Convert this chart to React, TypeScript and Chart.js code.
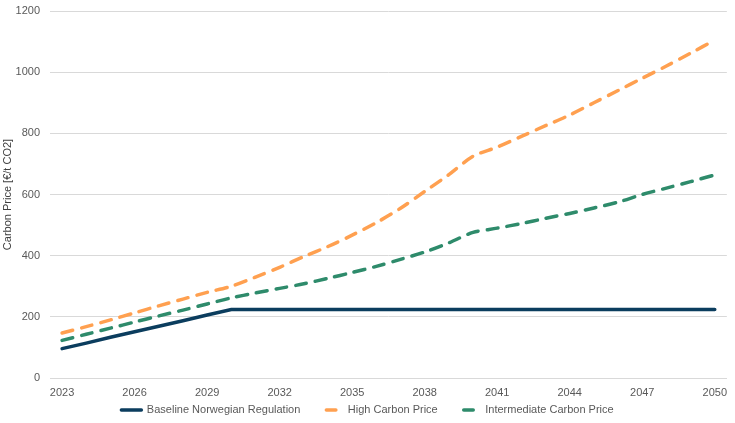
import React, { useEffect, useRef } from "react";
import { Chart, registerables } from "chart.js";

Chart.register(...registerables);

const years: string[] = [
  "2023","2024","2025","2026","2027","2028","2029","2030","2031","2032",
  "2033","2034","2035","2036","2037","2038","2039","2040","2041","2042",
  "2043","2044","2045","2046","2047","2048","2049","2050",
];

const baseline: number[] = [
  96, 114, 133, 151, 169, 187, 206, 224, 224, 224,
  224, 224, 224, 224, 224, 224, 224, 224, 224, 224,
  224, 224, 224, 224, 224, 224, 224, 224,
];

const highPrice: number[] = [
  147, 168, 190, 213, 236, 258, 280, 300, 330, 362,
  397, 430, 467, 508, 555, 610, 665, 725, 755, 790,
  825, 860, 900, 940, 980, 1020, 1062, 1105,
];

const intermediatePrice: number[] = [
  123, 143, 163, 183, 203, 222, 242, 262, 278, 293,
  308, 326, 345, 365, 388, 412, 442, 476, 490, 505,
  522, 538, 556, 575, 600, 621, 642, 664,
];

const yTicks: number[] = [0, 200, 400, 600, 800, 1000, 1200];

const NAVY = "#0B3D5E";
const ORANGE = "#FFA050";
const GREEN = "#2E8B6B";
const TEXT = "#595959";
const GRID = "#D9D9D9";
const FONT = "'Liberation Sans', Arial, sans-serif";
const LEGEND_ITEM_GAP = 22;

const legendShift = {
  id: "legendShift",
  afterLayout(chart: any) {
    const lg = chart.legend;
    if (!lg) return;
    // legend rows are drawn at top + padding; pull the top back up (keep bottom so nothing is clipped)
    const shift = LEGEND_ITEM_GAP - 3.5;
    lg.top -= shift;
    lg.height = lg.bottom - lg.top;
  },
};

export default function App() {
  const ref = useRef<HTMLCanvasElement | null>(null);

  useEffect(() => {
    document.body.style.margin = "0";
    const canvas = ref.current;
    if (!canvas) return;
    const chart = new Chart(canvas, {
      type: "line",
      data: {
        labels: years,
        datasets: [
          {
            label: "Baseline Norwegian Regulation",
            data: baseline,
            borderColor: NAVY,
            backgroundColor: NAVY,
            borderWidth: 3.5,
            pointRadius: 0,
            tension: 0,
            borderCapStyle: "round",
          },
          {
            label: "High Carbon Price",
            data: highPrice,
            borderColor: ORANGE,
            backgroundColor: ORANGE,
            borderWidth: 3.5,
            borderDash: [11, 9],
            borderCapStyle: "round",
            pointRadius: 0,
            tension: 0.3,
          },
          {
            label: "Intermediate Carbon Price",
            data: intermediatePrice,
            borderColor: GREEN,
            backgroundColor: GREEN,
            borderWidth: 3.5,
            borderDash: [11, 9],
            borderCapStyle: "round",
            pointRadius: 0,
            tension: 0.3,
          },
        ],
      },
      plugins: [legendShift],
      options: {
        animation: false,
        responsive: false,
        maintainAspectRatio: false,
        layout: { padding: { top: 0, right: 0, left: 0, bottom: 1 } },
        plugins: {
          tooltip: { enabled: false },
          legend: {
            position: "bottom",
            maxHeight: 21,
            labels: {
              color: TEXT,
              font: { family: FONT, size: 11 },
              usePointStyle: true,
              pointStyle: "line",
              boxWidth: 20,
              boxHeight: 11,
              pointStyleWidth: 20,
              padding: LEGEND_ITEM_GAP,
              generateLabels: (c: any) =>
                c.data.datasets.map((ds: any, i: number) => ({
                  text: ds.label,
                  fillStyle: ds.borderColor,
                  strokeStyle: ds.borderColor,
                  lineWidth: 3.5,
                  lineDash: ds.borderDash ? [9.5, 40] : [],
                  lineDashOffset: ds.borderDash ? -4 : 0,
                  lineCap: "round",
                  pointStyle: "line",
                  hidden: false,
                  datasetIndex: i,
                  fontColor: TEXT,
                })),
            },
          },
        },
        scales: {
          x: {
            type: "category",
            offset: true,
            grid: { display: false, drawTicks: false },
            border: { display: true, color: GRID, width: 1 },
            afterFit: (axis: any) => {
              axis.height = 23;
            },
            ticks: {
              color: TEXT,
              font: { family: FONT, size: 11 },
              autoSkip: false,
              maxRotation: 0,
              padding: 8,
              callback: function (this: any, _v: any, i: number) {
                return i % 3 === 0 ? years[i] : "";
              },
            },
          },
          y: {
            min: 0,
            max: 1200,
            afterBuildTicks: (axis: any) => {
              axis.ticks = yTicks.map((v) => ({ value: v }));
            },
            afterFit: (axis: any) => {
              axis.width = 50;
              axis.paddingTop = 11;
              axis.paddingBottom = 4;
            },
            grid: { color: GRID, lineWidth: 1, drawTicks: false },
            border: { display: false },
            ticks: {
              color: TEXT,
              font: { family: FONT, size: 11 },
              padding: 10,
              callback: (v: any) => String(v),
            },
            title: {
              display: true,
              text: "Carbon Price [€/t CO2]",
              color: "#404040",
              font: { family: FONT, size: 11 },
              padding: { top: 1.5, bottom: 0 },
            },
          },
        },
      },
    });
    return () => chart.destroy();
  }, []);

  return <canvas ref={ref} width={735} height={423} style={{ display: "block" }} />;
}
